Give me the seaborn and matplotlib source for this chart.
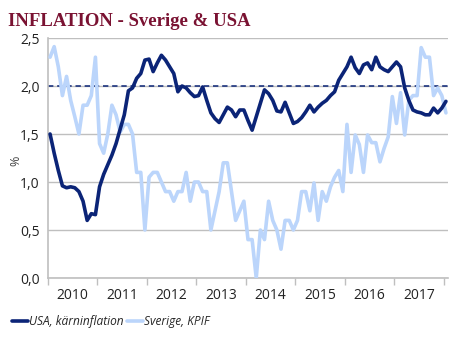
import numpy as np
import pandas as pd
import matplotlib
matplotlib.use("Agg")
import matplotlib.pyplot as plt
from matplotlib.lines import Line2D
import seaborn as sns

# Monthly inflation, Jan 2010 - Jan 2018 (%)
usa_core = [
    1.50, 1.30, 1.12, 0.96, 0.94, 0.95, 0.94, 0.90, 0.80, 0.60, 0.67, 0.66,
    0.95, 1.08, 1.18, 1.28, 1.40, 1.55, 1.70, 1.95, 1.98, 2.08, 2.13, 2.27,
    2.28, 2.15, 2.24, 2.32, 2.27, 2.20, 2.13, 1.94, 2.00, 1.98, 1.93, 1.89,
    1.90, 1.99, 1.85, 1.72, 1.66, 1.62, 1.70, 1.78, 1.75, 1.68, 1.75, 1.75,
    1.64, 1.54, 1.68, 1.82, 1.96, 1.92, 1.85, 1.74, 1.73, 1.83, 1.72, 1.61,
    1.63, 1.67, 1.73, 1.80, 1.73, 1.78, 1.82, 1.85, 1.90, 1.94, 2.06, 2.13,
    2.20, 2.30, 2.19, 2.13, 2.22, 2.24, 2.17, 2.30, 2.20, 2.17, 2.15, 2.20,
    2.25, 2.20, 1.98, 1.85, 1.75, 1.73, 1.72, 1.70, 1.70, 1.77, 1.72, 1.77,
    1.84,
]
sweden_kpif = [
    2.30, 2.41, 2.20, 1.90, 2.10, 1.85, 1.68, 1.50, 1.80, 1.80, 1.90, 2.30,
    1.40, 1.30, 1.50, 1.80, 1.70, 1.52, 1.60, 1.60, 1.50, 1.10, 1.10, 0.50,
    1.05, 1.10, 1.10, 1.00, 0.90, 0.90, 0.80, 0.90, 0.90, 1.10, 0.80, 1.00,
    1.00, 0.90, 0.90, 0.50, 0.70, 0.90, 1.20, 1.20, 0.90, 0.60, 0.70, 0.80,
    0.40, 0.40, 0.00, 0.50, 0.40, 0.80, 0.60, 0.50, 0.30, 0.60, 0.60, 0.50,
    0.60, 0.90, 0.90, 0.70, 0.99, 0.60, 0.90, 0.80, 0.95, 1.05, 1.12, 0.90,
    1.60, 1.10, 1.49, 1.39, 1.10, 1.49, 1.41, 1.41, 1.21, 1.35, 1.47, 1.89,
    1.61, 1.93, 1.49, 1.85, 1.90, 1.90, 2.40, 2.30, 2.30, 1.90, 1.98, 1.90,
    1.72,
]
years = ["2010", "2011", "2012", "2013", "2014", "2015", "2016", "2017"]
series_names = ["USA, kärninflation", "Sverige, KPIF"]
y_ticks = [0.0, 0.5, 1.0, 1.5, 2.0, 2.5]
target = 2.0

navy = "#0B2477"
light = "#BBD5FB"
grid_col = "#BFBFBF"
title_col = "#7A1232"

months = np.arange(len(usa_core))
df = pd.DataFrame({
    "month": np.concatenate([months, months]),
    "value": usa_core + sweden_kpif,
    "serie": [series_names[0]] * len(usa_core) + [series_names[1]] * len(sweden_kpif),
})

sns.set_theme(style="white")
plt.rcParams["font.family"] = ["Open Sans", "DejaVu Sans"]

fig = plt.figure(figsize=(4.69, 3.44), dpi=100)
ax = fig.add_axes([48 / 469, 66 / 344, 400 / 469, 240 / 344])

# horizontal grid
for yv in y_ticks:
    ax.axhline(yv, color=grid_col, lw=1.0, zorder=0)
ax.axhline(target, color=navy, lw=1.1, ls=(0, (3.5, 2.5)), zorder=1)

sns.lineplot(data=df, x="month", y="value", hue="serie",
             hue_order=[series_names[1], series_names[0]],
             palette={series_names[0]: navy, series_names[1]: light},
             linewidth=2.6, legend=False, ax=ax, zorder=3)

ax.set_xlim(-0.5, len(usa_core) - 0.5)
ax.set_ylim(0, 2.5)

# year boundaries as ticks, year labels centred in between
ax.set_xticks([-0.5 + 12 * k for k in range(len(years))] + [95.5])
ax.set_xticklabels([])
ax.set_xticks([5.5 + 12 * k for k in range(len(years))], minor=True)
ax.set_xticklabels(years, minor=True)
ax.tick_params(axis="x", which="major", direction="out", length=5, width=1, color=grid_col, bottom=True)
ax.tick_params(axis="x", which="minor", length=0, pad=7, labelsize=10, labelcolor="#222222")

ax.set_yticks(y_ticks)
ax.set_yticklabels([f"{v:.1f}".replace(".", ",") for v in y_ticks])
ax.tick_params(axis="y", length=0, pad=6, labelsize=10, labelcolor="#222222")
ax.set_ylabel("%", fontsize=9, color="#444444")
ax.yaxis.set_label_coords(-26 / 400, 0.49)
ax.set_xlabel("")

for side in ["top", "right"]:
    ax.spines[side].set_visible(False)
for side in ["left", "bottom"]:
    ax.spines[side].set_color(grid_col)
    ax.spines[side].set_linewidth(1.2)

fig.text(8 / 469, 1 - 26 / 344, "INFLATION - Sverige & USA",
         family="Liberation Serif", fontweight="bold", fontsize=13.5, color=title_col)

handles = [Line2D([0], [0], color=navy, lw=2.6), Line2D([0], [0], color=light, lw=2.6)]
fig.legend(handles, series_names, loc="center left", bbox_to_anchor=(12 / 469, 1 - 322 / 344),
           ncol=2, frameon=False, handlelength=1.35, handletextpad=0.1, columnspacing=0.25,
           prop={"style": "italic", "size": 8.6, "family": ["Open Sans", "DejaVu Sans"]},
           borderaxespad=0.0, borderpad=0.0)

fig.savefig("out.png", dpi=100)
